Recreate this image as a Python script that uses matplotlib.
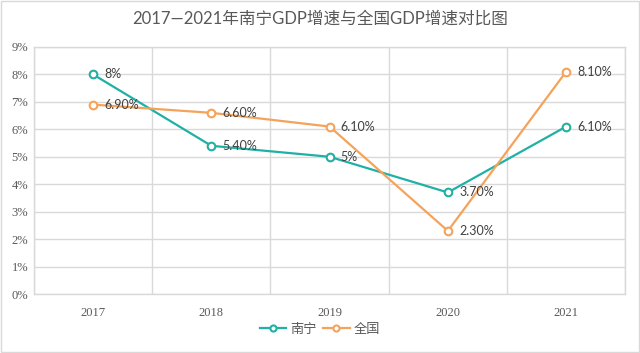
import numpy as np
import matplotlib.pyplot as plt
from matplotlib.patches import Rectangle

plt.rcParams['font.family'] = ['Lato', 'Noto Sans CJK SC', 'DejaVu Sans']

years = ['2017', '2018', '2019', '2020', '2021']
nanning = [8.0, 5.4, 5.0, 3.7, 6.1]
national = [6.9, 6.6, 6.1, 2.3, 8.1]
nanning_labels = ['8%', '5.40%', '5%', '3.70%', '6.10%']
national_labels = ['6.90%', '6.60%', '6.10%', '2.30%', '8.10%']

teal = '#21b0a5'
orange = '#f5a35b'

fig = plt.figure(figsize=(6.4, 3.53), dpi=100)
fig.patches.append(Rectangle((0.002, 0.003), 0.996, 0.994, transform=fig.transFigure,
                             fill=False, edgecolor='#d9d9d9', linewidth=1))
ax = fig.add_axes([0.053, 0.167, 0.924, 0.70])

x = np.arange(len(years))
ax.plot(x, nanning, color=teal, lw=1.6, marker='o', ms=5.5, mfc='white', mec=teal, mew=1.5,
        label='南宁', zorder=3)
ax.plot(x, national, color=orange, lw=1.6, marker='o', ms=5.5, mfc='white', mec=orange, mew=1.5,
        label='全国', zorder=3)

for xi, v, t in zip(x, nanning, nanning_labels):
    ax.annotate(t, (xi, v), xytext=(8, 0), textcoords='offset points', va='center',
                fontsize=9, color='#404040')
for xi, v, t in zip(x, national, national_labels):
    ax.annotate(t, (xi, v), xytext=(8, 0), textcoords='offset points', va='center',
                fontsize=9, color='#404040')

ax.set_xlim(-0.5, len(years) - 0.5)
ax.set_ylim(0, 9)
ax.set_yticks(range(0, 10))
ax.set_yticklabels([f'{i}%' for i in range(10)], family='Liberation Serif', fontsize=9, color='#595959')
ax.set_xticks(x)
ax.set_xticklabels(years, family='Liberation Serif', fontsize=9, color='#595959')
ax.set_xticks(np.arange(-0.5, len(years)), minor=True)
ax.tick_params(axis='both', length=0, which='both')
ax.tick_params(axis='x', pad=9)
ax.tick_params(axis='y', pad=4)
ax.grid(axis='y', color='#d9d9d9', lw=1)
ax.grid(axis='x', which='minor', color='#d9d9d9', lw=1)
ax.set_axisbelow(True)
for s in ax.spines.values():
    s.set_color('#d9d9d9')
    s.set_linewidth(1)

fig.text(0.5, 0.948, '2017—2021年南宁GDP增速与全国GDP增速对比图', ha='center', va='center',
         fontsize=12, color='#595959')
fig.legend(loc='center', bbox_to_anchor=(0.5, 0.068), ncol=2, frameon=False, fontsize=9.5,
           handlelength=2.0, handletextpad=0.3, columnspacing=0.5, labelcolor='#595959',
           markerscale=0.8)

fig.savefig('out.png', dpi=100)
